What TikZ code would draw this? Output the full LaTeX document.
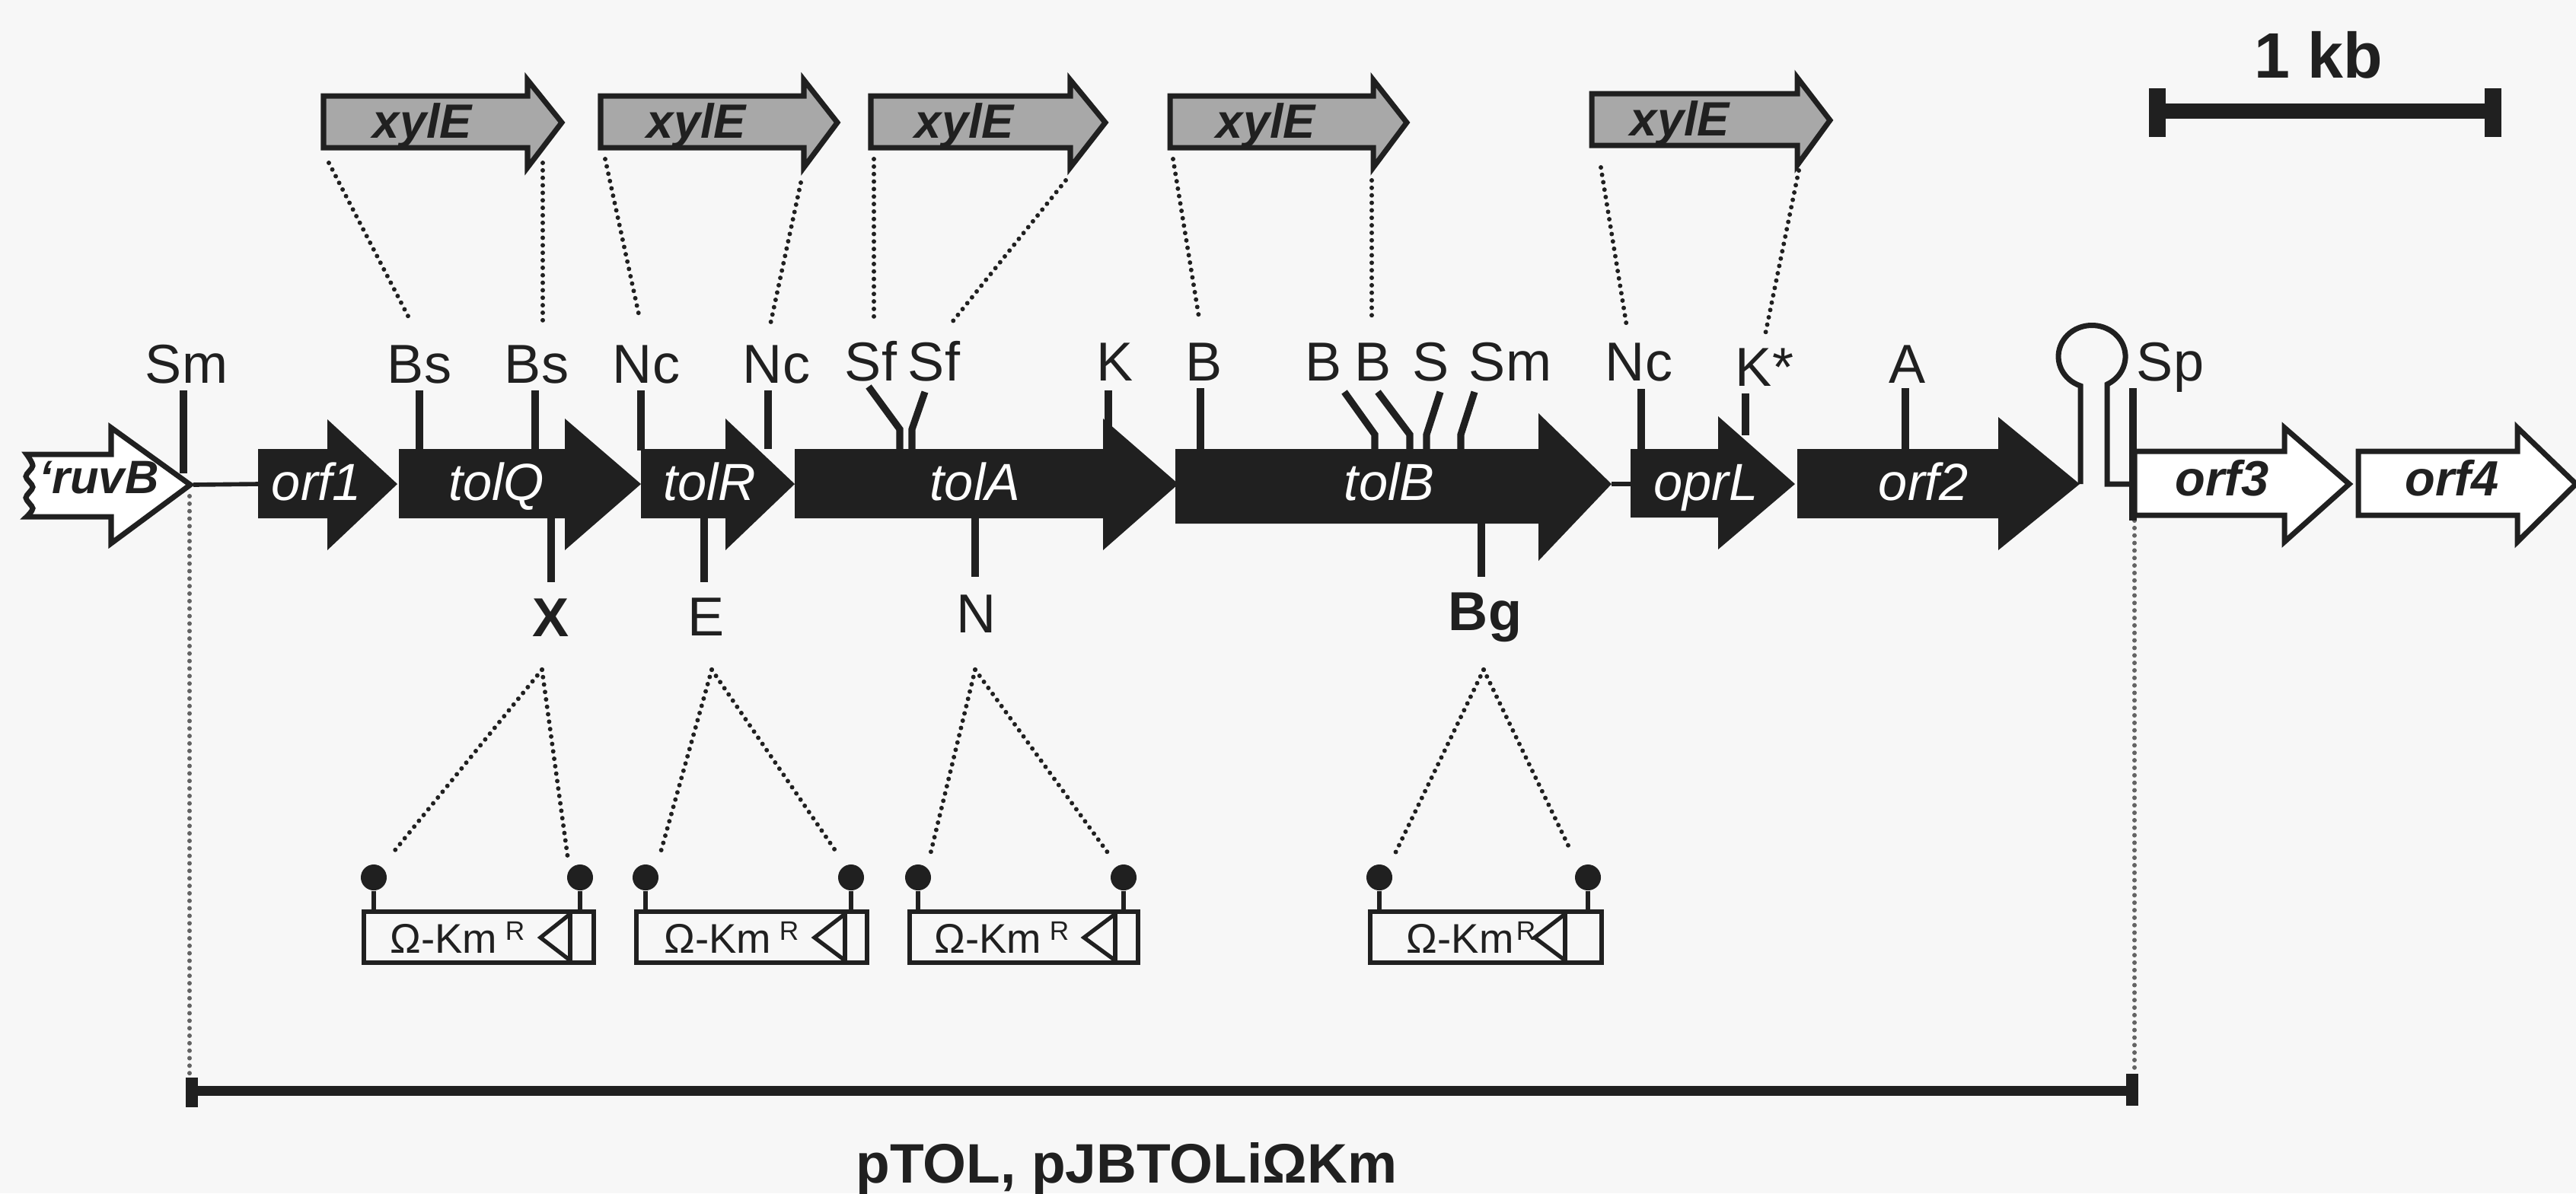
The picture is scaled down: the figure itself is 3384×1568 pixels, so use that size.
\documentclass[tikz,border=0pt]{standalone}
\usepackage{fontspec}
\usepackage{xcolor}
\usepackage{tikz}
\setmainfont{Liberation Sans}
\definecolor{paperbg}{RGB}{247,247,247}
\definecolor{inkdark}{RGB}{32,32,32}
\definecolor{xylgray}{RGB}{168,168,168}
\tikzset{
  sitelabel/.style={text=inkdark, anchor=base, font=\fontsize{20.5}{22}\selectfont},
  boldlabel/.style={sitelabel, font=\fontsize{20.5}{22}\selectfont\bfseries},
  genetext/.style={anchor=base, font=\fontsize{19.5}{22}\selectfont\itshape},
  sitetick/.style={draw=inkdark, line width=2.6pt},
  dotline/.style={draw=inkdark, line width=1.7pt, line cap=round, dash pattern=on 0pt off 2.8pt},
  genelink/.style={draw=inkdark, line width=1.6pt},
  cassette/.style={draw=inkdark, line width=1.5pt},
}
\begin{document}
\begin{tikzpicture}[x=0.01cm, y=-0.01cm]
\useasboundingbox (0,0) rectangle (3384,1568);
\fill[paperbg] (0,0) rectangle (3384,1568);

% long dotted guides down to the bar
\foreach \n/\xa/\ya/\yb in {guideL/249/652/1416, guideR/2804/684/1408}{
  \coordinate (\n-a) at (\xa,\ya); \coordinate (\n-b) at (\xa,\yb);
  \draw[dotline, draw=inkdark!70] (\n-a)--(\n-b);
}

% sites above the genes
\foreach \n/\t/\lx/\ly/\x/\ya/\yb in {%
  smA/Sm/245/503/241/513/622, bsA/Bs/551/503/551/513/592, bsB/Bs/705/503/703/513/592,
  ncA/Nc/849/503/842/513/592, ncB/Nc/1020/503/1009/513/590, kA/K/1465/500/1456/513/565,
  bA/B/1582/500/1577/510/592, ncC/Nc/2153/500/2156/511/592, kB/K*/2318/507/2293/517/572,
  aA/A/2506/503/2503/510/592, spA/Sp/2851/500/2802/510/684}{
  \node[sitelabel] (\n) at (\lx,\ly) {\t};
  \coordinate (\n-top) at (\x,\ya); \coordinate (\n-end) at (\x,\yb);
  \draw[sitetick] (\n-top)--(\n-end);
}
\foreach \n/\t/\lx/\ly/\xa/\ya/\xb/\yb in {%
  sfA/Sf/1144/500/1141/508/1182/564, sfB/Sf/1227/500/1215/515/1198/564,
  bB/B/1739/500/1766/515/1806/571, bC/B/1804/500/1810/515/1852/571,
  sA/S/1880/500/1892/515/1874/571, smB/Sm/1984/500/1937/515/1919/571}{
  \node[sitelabel] (\n) at (\lx,\ly) {\t};
  \coordinate (\n-top) at (\xa,\ya); \coordinate (\n-bend) at (\xb,\yb); \coordinate (\n-end) at (\xb,592);
  \draw[sitetick] (\n-top)--(\n-bend)--(\n-end);
}

% sites below the genes
\node[boldlabel] (xA) at (724,836) {X};
\node[sitelabel] (eA) at (928,835) {E};
\node[sitelabel] (nA) at (1283,831) {N};
\node[boldlabel] (bgA) at (1951,828) {Bg};
\foreach \n/\x/\ya/\yb in {xA/724/678/765, eA/925/678/765, nA/1281/678/758, bgA/1946/685/758}{
  \coordinate (\n-top) at (\x,\ya); \coordinate (\n-end) at (\x,\yb);
  \draw[sitetick] (\n-top)--(\n-end);
}

% open genes
\draw[line width=2pt, draw=inkdark, fill=white]
  (35,597)--(146,597)--(146,562)--(250,637)--(146,714)--(146,679)--(35,679)
  -- plot[smooth] coordinates {(35,679) (43,668) (34,654) (43,640) (34,626) (43,612) (35,597)} -- cycle;
\coordinate (ruvB-tip) at (254,637);
\node[genetext, font=\fontsize{17.5}{20}\selectfont\bfseries\itshape, text=inkdark] (ruvB) at (130,648) {‘ruvB};
\foreach \n/\xl/\xb/\xt/\lx in {orf3/2804/3001/3086/2919, orf4/3098/3307/3384/3221}{
  \draw[line width=2pt, draw=inkdark, fill=white] (\xl,593)--(\xb,593)--(\xb,562)--(\xt,636)--(\xb,712)--(\xb,677)--(\xl,677)--cycle;
  \node[genetext, font=\fontsize{18.5}{20}\selectfont\bfseries\itshape, text=inkdark] (\n) at (\lx,651) {\n};
}

% black genes
\foreach \n/\xl/\xb/\xt/\yb/\ht/\hb/\lx in {%
  orf1/339/430/522/681/551/723/416, tolQ/524/742/842/681/550/723/652,
  tolR/842/953/1044/681/550/723/932, tolA/1044/1449/1548/681/550/723/1281,
  tolB/1544/2021/2117/688/543/737/1825, oprL/2142/2257/2358/680/547/722/2241,
  orf2/2361/2625/2732/681/548/723/2527}{
  \fill[inkdark] (\xl,590)--(\xb,590)--(\xb,\ht)--(\xt,636)--(\xb,\hb)--(\xb,\yb)--(\xl,\yb)--cycle;
  \coordinate (\n-start) at (\xl,636); \coordinate (\n-tip) at (\xt,636);
  \node[genetext, text=white] (\n) at (\lx,657) {\n};
}
\draw[genelink] (ruvB-tip)--(orf1-start);
\draw[genelink] (tolB-tip)--(oprL-start);

% hairpin
\coordinate (stemL) at (2733,636); \coordinate (stemR) at (2800,636);
\draw[genelink, line width=2pt] (stemL)--(2733,507) arc[start angle=110, end angle=423, x radius=44, y radius=41] --(2768,636)--(stemR);

% xylE inserts
\foreach \n/\xl/\xb/\xt/\lx/\dy in {xyA/425/693/738/555/0, xyB/789/1056/1100/915/0, xyC/1144/1406/1452/1267/0,
  xyD/1537/1804/1848/1663/0, xyE/2091/2361/2404/2207/3}{
  \begin{scope}[yshift={\dy*0.01cm}]
  \draw[line width=2pt, draw=inkdark, fill=xylgray] (\xl,126)--(\xb,126)--(\xb,105)--(\xt,161)--(\xb,220)--(\xb,194)--(\xl,194)--cycle;
  \node[genetext, font=\fontsize{18}{20}\selectfont\bfseries\itshape, text=inkdark] (\n) at (\lx,181) {xylE};
  \end{scope}
}

% dotted lines, top and bottom
\foreach \i/\xa/\ya/\xb/\yb in {%
  1/432/214/540/423, 2/713/214/713/423, 3/795/209/840/417, 4/1052/240/1012/426, 5/1148/209/1148/421,
  6/1400/237/1251/423, 7/1541/209/1575/417, 8/1802/237/1802/416, 9/2103/220/2137/429, 10/2363/224/2319/439,
  11/712/880/515/1122, 12/712/880/746/1128, 13/935/880/867/1123, 14/935/880/1101/1123,
  15/1281/880/1222/1123, 16/1281/880/1460/1127, 17/1949/880/1830/1127, 18/1949/880/2063/1117}{
  \coordinate (dot\i-a) at (\xa,\ya); \coordinate (dot\i-b) at (\xb,\yb);
  \draw[dotline] (dot\i-a)--(dot\i-b);
}

% cassettes
\foreach \n/\xl/\xr/\xi/\xp/\xs/\xm/\xq/\g in {%
  omA/478/780/749/710/512/491/762/3pt, omB/836/1139/1110/1070/872/848/1118/3pt,
  omC/1195/1495/1465/1424/1227/1206/1476/3pt, omD/1800/2104/2056/2016/1847/1812/2086/1pt}{
  \draw[cassette] (\xl,1198) rectangle (\xr,1265);
  \draw[cassette] (\xi,1198)--(\xi,1265);
  \draw[cassette, line join=miter] (\xi,1201)--(\xp,1232)--(\xi,1262);
  \node[anchor=base west, inner sep=0pt, text=inkdark, font=\fontsize{15.5}{17}\selectfont] (\n) at (\xs,1252)
    {Ω-Km\hspace{\g}\raisebox{4.8pt}{\fontsize{10}{10}\selectfont R}};
  \coordinate (\n-a) at (\xm,1198); \coordinate (\n-b) at (\xq,1198);
  \node[circle, fill=inkdark, inner sep=0pt, minimum size=0.34cm] (\n-l) at (\xm,1153) {};
  \node[circle, fill=inkdark, inner sep=0pt, minimum size=0.34cm] (\n-r) at (\xq,1153) {};
  \draw[cassette] (\n-l)--(\n-a);
  \draw[cassette] (\n-r)--(\n-b);
}

% pTOL span
\coordinate (spanL) at (252,1433); \coordinate (spanR) at (2801,1433);
\draw[draw=inkdark, line width=3.7pt] (spanL)--(spanR);
\draw[draw=inkdark, line width=4.8pt] (252,1416)--(252,1455);
\draw[draw=inkdark, line width=4.8pt] (2801,1411)--(2801,1453);
\node[anchor=base, text=inkdark, font=\fontsize{20.8}{23}\selectfont\bfseries] (span) at (1480,1554) {pTOL, pJBTOLiΩKm};

% scale
\node[anchor=base, text=inkdark, font=\fontsize{24}{26}\selectfont\bfseries] (scale) at (3046,102) {1 kb};
\coordinate (scaleL) at (2834,146); \coordinate (scaleR) at (3275,146);
\draw[draw=inkdark, line width=5.7pt] (scaleL)--(scaleR);
\draw[draw=inkdark, line width=6.5pt] (2834,116)--(2834,180);
\draw[draw=inkdark, line width=6.5pt] (3275,116)--(3275,180);
\end{tikzpicture}
\end{document}
